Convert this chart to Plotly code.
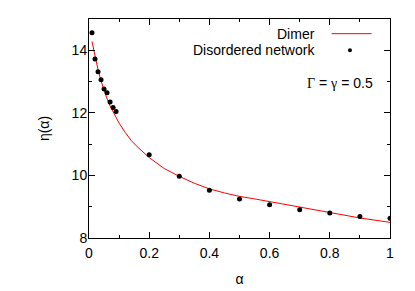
import plotly.graph_objects as go

# Disordered network points
alpha_pts = [0.01, 0.02, 0.03, 0.04, 0.05, 0.06, 0.07, 0.08, 0.09,
             0.2, 0.3, 0.4, 0.5, 0.6, 0.7, 0.8, 0.9, 1.0]
eta_pts = [14.56, 13.72, 13.31, 13.06, 12.76, 12.64, 12.35, 12.17, 12.04,
           10.66, 9.97, 9.53, 9.25, 9.06, 8.90, 8.80, 8.69, 8.63]

# Dimer curve
alpha_curve = [0.01, 0.02, 0.03, 0.04, 0.05, 0.06, 0.07, 0.08, 0.09, 0.10,
               0.12, 0.14, 0.16, 0.18, 0.20, 0.25, 0.30, 0.35, 0.40, 0.45,
               0.50, 0.55, 0.60, 0.70, 0.80, 0.90, 1.00]
eta_curve = [14.28, 13.80, 13.38, 13.02, 12.72, 12.45, 12.22, 12.02, 11.84, 11.67,
             11.38, 11.12, 10.92, 10.74, 10.57, 10.22, 9.97, 9.75, 9.57, 9.44,
             9.33, 9.25, 9.16, 8.98, 8.80, 8.64, 8.50]

x_ticks = [0, 0.2, 0.4, 0.6, 0.8, 1]
x_labels = ["0", "0.2", "0.4", "0.6", "0.8", "1"]
y_ticks = [8, 10, 12, 14]

FONT = "Liberation Sans, Arial, sans-serif"
SERIF = "Liberation Serif, serif"

fig = go.Figure()
fig.add_trace(go.Scatter(x=alpha_curve, y=eta_curve, mode="lines", name="Dimer",
                         line=dict(color="#ff0000", width=1), showlegend=False))
fig.add_trace(go.Scatter(x=alpha_pts, y=eta_pts, mode="markers", name="Disordered network",
                         marker=dict(color="black", size=5), showlegend=False))

axis_common = dict(showline=True, linecolor="black", linewidth=1, mirror="ticks",
                   ticks="inside", ticklen=6, tickcolor="black", showgrid=False,
                   zeroline=False, automargin=False,
                   tickfont=dict(family=FONT, size=14, color="black"))

fig.update_xaxes(range=[0, 1], tickvals=x_ticks, ticktext=x_labels, ticklabelstandoff=2,
                 minor=dict(dtick=0.1, ticks="inside", ticklen=3, tickcolor="black", showgrid=False),
                 title=dict(text="α", font=dict(family=FONT, size=14, color="black"), standoff=14),
                 **axis_common)
fig.update_yaxes(range=[8, 15], tickvals=y_ticks, ticklabelstandoff=-2,
                 minor=dict(dtick=1, ticks="inside", ticklen=3, tickcolor="black", showgrid=False),
                 title=dict(text="η(α)", font=dict(family=FONT, size=14, color="black"), standoff=18),
                 **axis_common)

LEG_SIZE = 14

# Legend (gnuplot style: text left of sample)
fig.add_annotation(xref="paper", yref="paper", x=0.757, y=0.933, text="Dimer",
                   showarrow=False, xanchor="right", yanchor="middle", align="right",
                   font=dict(family=FONT, size=LEG_SIZE, color="black"))
fig.add_shape(type="line", xref="paper", yref="paper", x0=0.806, x1=0.939, y0=0.933, y1=0.933,
              line=dict(color="#ff0000", width=1))
fig.add_annotation(xref="paper", yref="paper", x=0.757, y=0.857, text="Disordered network",
                   showarrow=False, xanchor="right", yanchor="middle", align="right",
                   font=dict(family=FONT, size=LEG_SIZE, color="black"))
fig.add_shape(type="circle", xref="paper", yref="paper", x0=0.867 - 2/301.3, x1=0.867 + 2/301.3,
              y0=0.857 - 2/219, y1=0.857 + 2/219, fillcolor="black", line=dict(width=0))
fig.add_annotation(xref="paper", yref="paper", x=0.950, y=0.710,
                   text=f"<span style='font-family:{SERIF}'>Γ</span> = "
                        f"<span style='font-family:{SERIF}'>γ</span> = 0.5",
                   showarrow=False, xanchor="right", yanchor="middle", align="right",
                   font=dict(family=FONT, size=LEG_SIZE, color="black"))

fig.update_layout(width=415, height=291, margin=dict(l=89, r=25, t=19, b=53),
                  plot_bgcolor="white", paper_bgcolor="white",
                  font=dict(family=FONT, size=14, color="black"))

fig.write_html("out.html", config={"displayModeBar": False},
               post_script="document.body.style.margin='0';document.body.style.overflow='hidden';")
